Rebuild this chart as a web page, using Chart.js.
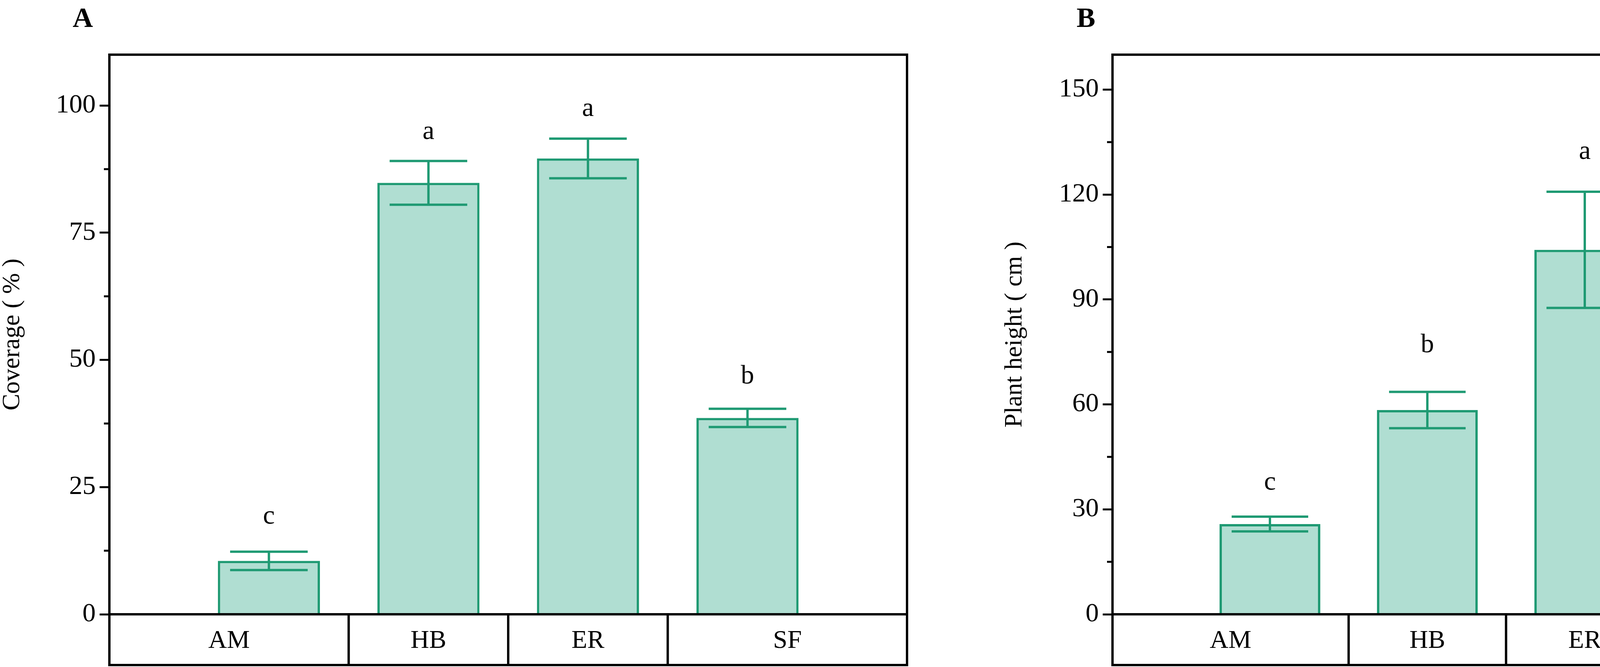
<!DOCTYPE html>
<html>
<head>
<meta charset="utf-8">
<script src="https://cdn.jsdelivr.net/npm/chart.js@4.4.1/dist/chart.umd.min.js"></script>
<style>
  body { margin: 0; background: #fff; }
  .panel { position: absolute; top: 0; height: 1708px; }
</style>
</head>
<body>
<div class="panel" style="left:0;width:2330px"><canvas id="chartA"></canvas></div>
<div class="panel" style="left:2440px;width:2433px"><canvas id="chartB"></canvas></div>
<script>
const categories = ['AM', 'HB', 'ER', 'SF'];

const coverageMean = [10.5, 84.8, 89.6, 38.6];
const coverageErr = [1.8, 4.3, 3.9, 1.8];
const coverageLetters = ['c', 'a', 'a', 'b'];
const coverageLetterY = [19.2, 94.8, 99.3, 46.7];

const heightMean = [25.8, 58.4, 104.2, 25.9];
const heightErr = [2.1, 5.2, 16.6, 1.9];
const heightLetters = ['c', 'b', 'a', 'c'];
const heightLetterY = [37.6, 76.9, 132.2, 37.6];

const FILL = '#b0ded2';
const EDGE = '#1f9a73';
const FONT = '"Liberation Serif", "Times New Roman", serif';

// decorations: box, category row, error bars, letters, minor ticks, titles
const decor = {
    id: 'decor',
    afterDatasetsDraw(chart, args, opts) {
        const ctx = chart.ctx;
        const area = chart.chartArea;
        const x = chart.scales.x;
        const y = chart.scales.y;
        const meta = chart.getDatasetMeta(0);
        ctx.save();

        // error bars
        ctx.strokeStyle = EDGE;
        ctx.lineWidth = 6;
        opts.mean.forEach(function(m, i) {
            const el = meta.data[i + 1];
            const cx = el.x;
            const half = el.width * 0.38;
            const top = y.getPixelForValue(m + opts.err[i]);
            const bot = y.getPixelForValue(m - opts.err[i]);
            ctx.beginPath();
            ctx.moveTo(cx, top); ctx.lineTo(cx, bot);
            ctx.moveTo(cx - half, top); ctx.lineTo(cx + half, top);
            ctx.moveTo(cx - half, bot); ctx.lineTo(cx + half, bot);
            ctx.stroke();
        });

        // letters
        ctx.fillStyle = '#000';
        ctx.font = '68px ' + FONT;
        ctx.textAlign = 'center';
        ctx.textBaseline = 'middle';
        opts.letters.forEach(function(t, i) {
            ctx.fillText(t, meta.data[i + 1].x, y.getPixelForValue(opts.letterY[i]));
        });

        // minor ticks
        ctx.strokeStyle = '#000';
        ctx.lineWidth = 5;
        for (let v = opts.minor; v < y.max; v += opts.minor * 2) {
            const py = y.getPixelForValue(v);
            ctx.beginPath();
            ctx.moveTo(area.left - 14, py); ctx.lineTo(area.left, py);
            ctx.stroke();
        }

        // plot box and category row
        const rowH = 130;
        ctx.lineWidth = 6;
        ctx.strokeRect(area.left, area.top, area.right - area.left, area.bottom - area.top + rowH);
        ctx.beginPath();
        ctx.moveTo(area.left, area.bottom); ctx.lineTo(area.right, area.bottom);
        const edges = [area.left, x.getPixelForValue(1.5), x.getPixelForValue(2.5), x.getPixelForValue(3.5), area.right];
        for (let i = 1; i < 4; i++) {
            ctx.moveTo(edges[i], area.bottom); ctx.lineTo(edges[i], area.bottom + rowH);
        }
        ctx.stroke();
        ctx.font = '66px ' + FONT;
        categories.forEach(function(c, i) {
            ctx.fillText(c, (edges[i] + edges[i + 1]) / 2, area.bottom + rowH / 2 + 4);
        });

        // axis title
        ctx.save();
        ctx.translate(opts.titleX, (area.top + area.bottom) / 2);
        ctx.rotate(-Math.PI / 2);
        ctx.font = '64px ' + FONT;
        ctx.fillText(opts.title, 0, 0);
        ctx.restore();

        // panel label
        ctx.font = 'bold 72px ' + FONT;
        ctx.fillText(opts.panel, opts.panelX, 50);
        ctx.restore();
    }
};

function makeChart(id, mean, err, letters, letterY, max, step, title, titleX, panel, panelX, axisW, padRight) {
    return new Chart(document.getElementById(id), {
        type: 'bar',
        data: {
            labels: [''].concat(categories, ['']),
            datasets: [{
                data: [null].concat(mean, [null]),
                backgroundColor: FILL,
                borderColor: EDGE,
                borderWidth: 6,
                barPercentage: 0.64,
                categoryPercentage: 1,
            }]
        },
        options: {
            responsive: true,
            maintainAspectRatio: false,
            animation: false,
            layout: { padding: { top: 140, right: padRight, bottom: 135, left: 0 } },
            plugins: {
                legend: { display: false },
                tooltip: { enabled: false },
                decor: {
                    mean: mean, err: err, letters: letters, letterY: letterY,
                    minor: step / 2, title: title, titleX: titleX, panel: panel, panelX: panelX
                }
            },
            scales: {
                x: { display: false, offset: false },
                y: {
                    min: 0,
                    max: max,
                    afterFit: function(scale) { scale.width = axisW; },
                    afterBuildTicks: function(scale) {
                        const t = [];
                        for (let v = 0; v <= max; v += step) t.push({ value: v });
                        scale.ticks = t;
                    },
                    border: { display: false },
                    grid: { drawOnChartArea: false, drawTicks: true, tickLength: 25, color: '#000', lineWidth: 5 },
                    ticks: {
                        color: '#000',
                        padding: 10,
                        font: { family: FONT, size: 68 }
                    }
                }
            }
        },
        plugins: [decor]
    });
}

makeChart('chartA', coverageMean, coverageErr, coverageLetters, coverageLetterY,
    110, 25, 'Coverage ( % )', 32, 'A', 212, 280, 8);
makeChart('chartB', heightMean, heightErr, heightLetters, heightLetterY,
    160, 30, 'Plant height ( cm )', 158, 'B', 340, 408, 10);
</script>
</body>
</html>
